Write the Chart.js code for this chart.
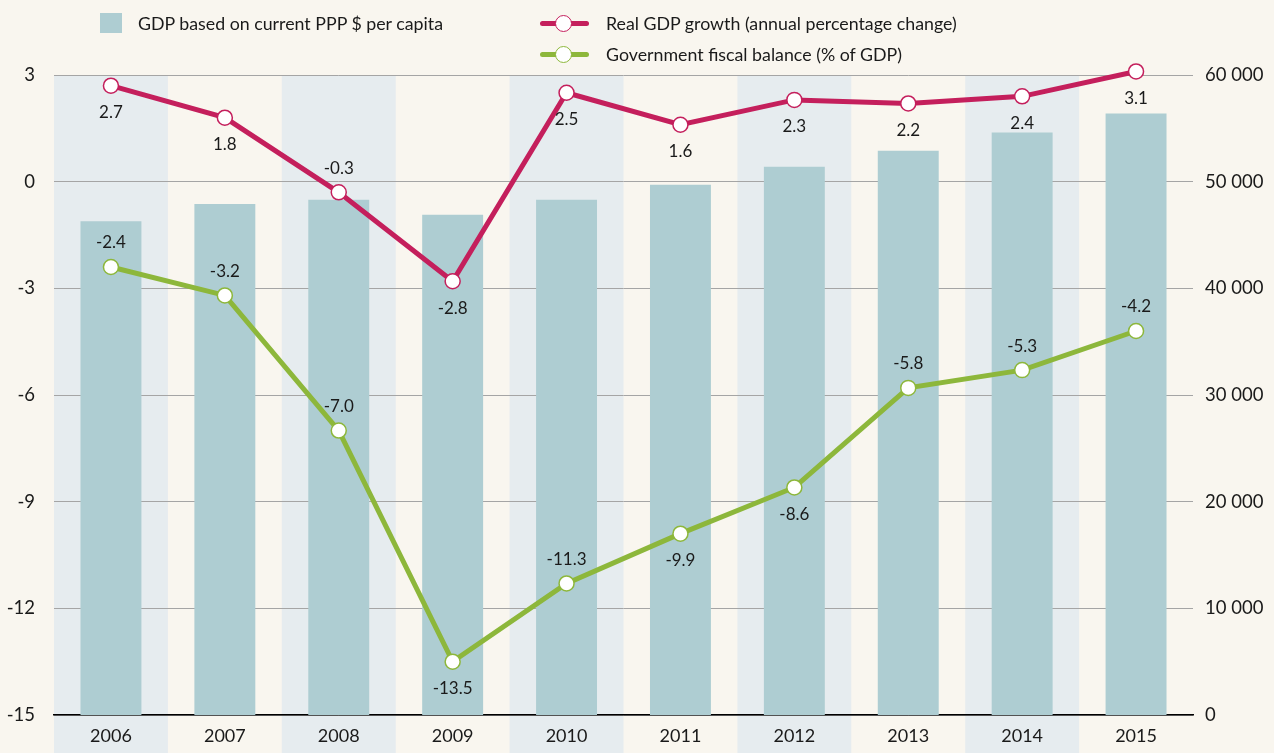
<!DOCTYPE html>
<html>
<head>
<meta charset="utf-8">
<script src="https://cdn.jsdelivr.net/npm/chart.js@4.4.1/dist/chart.umd.min.js"></script>
<style>
  html, body { margin: 0; padding: 0; background: #f9f6ef; }
  #wrap { position: relative; width: 1274px; height: 753px; }
  canvas { position: absolute; left: 0; top: 0; }
  .leg { position: absolute; font-family: Lato, "Noto Sans", sans-serif; font-size: 17.8px; line-height: 22px; color: #1a1a1a; white-space: nowrap; }
  .sq { position: absolute; width: 22px; height: 20px; background: #aecdd2; }
  .ln { position: absolute; width: 49px; height: 5px; border-radius: 2.5px; }
  .dot { position: absolute; border-radius: 50%; background: #fff; border: 1.5px solid; box-sizing: border-box; width: 17px; height: 17px; }
</style>
</head>
<body>
<div id="wrap">
  <canvas id="c" width="1274" height="753"></canvas>
  <div class="sq" style="left:100px;top:13px;"></div>
  <div class="leg" style="left:138px;top:12px;">GDP based on current PPP $ per capita</div>
  <div class="ln" style="left:540px;top:21px;background:#c41f5c;"></div>
  <div class="dot" style="left:555px;top:15px;border-color:#c41f5c;"></div>
  <div class="leg" style="left:606px;top:12px;">Real GDP growth (annual percentage change)</div>
  <div class="ln" style="left:540px;top:52px;background:#8db73b;"></div>
  <div class="dot" style="left:555px;top:46px;border-color:#8db73b;"></div>
  <div class="leg" style="left:606px;top:43px;">Government fiscal balance (% of GDP)</div>
</div>
<script>
const years = ['2006','2007','2008','2009','2010','2011','2012','2013','2014','2015'];
const gdpPerCapita = [46300, 47900, 48300, 46900, 48300, 49700, 51400, 52900, 54600, 56400];
const realGrowth = [2.7, 1.8, -0.3, -2.8, 2.5, 1.6, 2.3, 2.2, 2.4, 3.1];
const fiscalBalance = [-2.4, -3.2, -7.0, -13.5, -11.3, -9.9, -8.6, -5.8, -5.3, -4.2];
const leftTicks = [-15, -12, -9, -6, -3, 0, 3];
const rightTicks = [0, 10000, 20000, 30000, 40000, 50000, 60000];

const growthLabelPos = ['below','below','above','below','below','below','below','below','below','below'];
const fiscalLabelPos = ['above','above','above','below','above','below','below','above','above','above'];

const RED = '#c41f5c', GREEN = '#8db73b', BAR = '#aecdd2', BAND = '#e6ecef';
const FONT = 'Lato, "Noto Sans", sans-serif';

const bandPlugin = {
  id: 'bands',
  beforeDraw(chart) {
    const ctx = chart.ctx, x = chart.scales.x, area = chart.chartArea;
    const w = (area.right - area.left) / years.length;
    ctx.save();
    ctx.fillStyle = BAND;
    years.forEach((y, i) => {
      if (i % 2 === 0) {
        const cx = x.getPixelForValue(i);
        ctx.fillRect(cx - w / 2, area.top, w, chart.height - area.top);
      }
    });
    ctx.restore();
  }
};

const labelPlugin = {
  id: 'pointLabels',
  afterDatasetsDraw(chart) {
    const ctx = chart.ctx;
    ctx.save();
    ctx.font = '17px ' + FONT;
    ctx.fillStyle = '#1a1a1a';
    ctx.textAlign = 'center';
    ctx.textBaseline = 'middle';
    [[0, realGrowth, growthLabelPos], [1, fiscalBalance, fiscalLabelPos]].forEach(([di, vals, pos]) => {
      const meta = chart.getDatasetMeta(di);
      meta.data.forEach((pt, i) => {
        const off = pos[i] === 'above' ? -24 : 27;
        ctx.fillText(vals[i].toFixed(1), pt.x, pt.y + off);
      });
    });
    ctx.restore();
  }
};

new Chart(document.getElementById('c'), {
  type: 'bar',
  data: {
    labels: years,
    datasets: [
      { type: 'line', label: 'Real GDP growth (annual percentage change)', data: realGrowth, yAxisID: 'y',
        borderColor: RED, borderWidth: 5, pointRadius: 7.5, pointBackgroundColor: '#fff', pointBorderColor: RED,
        pointBorderWidth: 1.5, tension: 0, order: 1, clip: false },
      { type: 'line', label: 'Government fiscal balance (% of GDP)', data: fiscalBalance, yAxisID: 'y',
        borderColor: GREEN, borderWidth: 5, pointRadius: 7.5, pointBackgroundColor: '#fff', pointBorderColor: GREEN,
        pointBorderWidth: 1.5, tension: 0, order: 2, clip: false },
      { type: 'bar', label: 'GDP based on current PPP $ per capita', data: gdpPerCapita, yAxisID: 'y1',
        backgroundColor: BAR, barPercentage: 0.535, categoryPercentage: 1, order: 3 }
    ]
  },
  options: {
    responsive: false,
    animation: false,
    layout: { padding: { top: 75, left: 0, right: 0, bottom: 0 } },
    plugins: { legend: { display: false }, tooltip: { enabled: false } },
    scales: {
      x: {
        offset: true,
        grid: { display: false, drawTicks: false },
        border: { display: true, color: '#000', width: 1.5 },
        ticks: { color: '#1a1a1a', font: { family: FONT, size: 18 }, padding: 10 },
        afterFit(s) { s.height = 38; }
      },
      y: {
        position: 'left', min: -15, max: 3,
        afterBuildTicks(s) { s.ticks = leftTicks.map(v => ({ value: v })); },
        grid: { color: '#a5a5a5', lineWidth: 1, drawTicks: false },
        border: { display: false },
        ticks: { color: '#1a1a1a', font: { family: FONT, size: 18.5 }, padding: 19 },
        afterFit(s) { s.width = 54; }
      },
      y1: {
        position: 'right', min: 0, max: 60000,
        afterBuildTicks(s) { s.ticks = rightTicks.map(v => ({ value: v })); },
        grid: { display: false, drawTicks: false },
        border: { display: false },
        ticks: { color: '#1a1a1a', font: { family: FONT, size: 18.5 }, padding: 12,
          callback: v => String(v).replace(/\B(?=(\d{3})+(?!\d))/g, ' ') },
        afterFit(s) { s.width = 81; }
      }
    }
  },
  plugins: [bandPlugin, labelPlugin]
});
</script>
</body>
</html>
